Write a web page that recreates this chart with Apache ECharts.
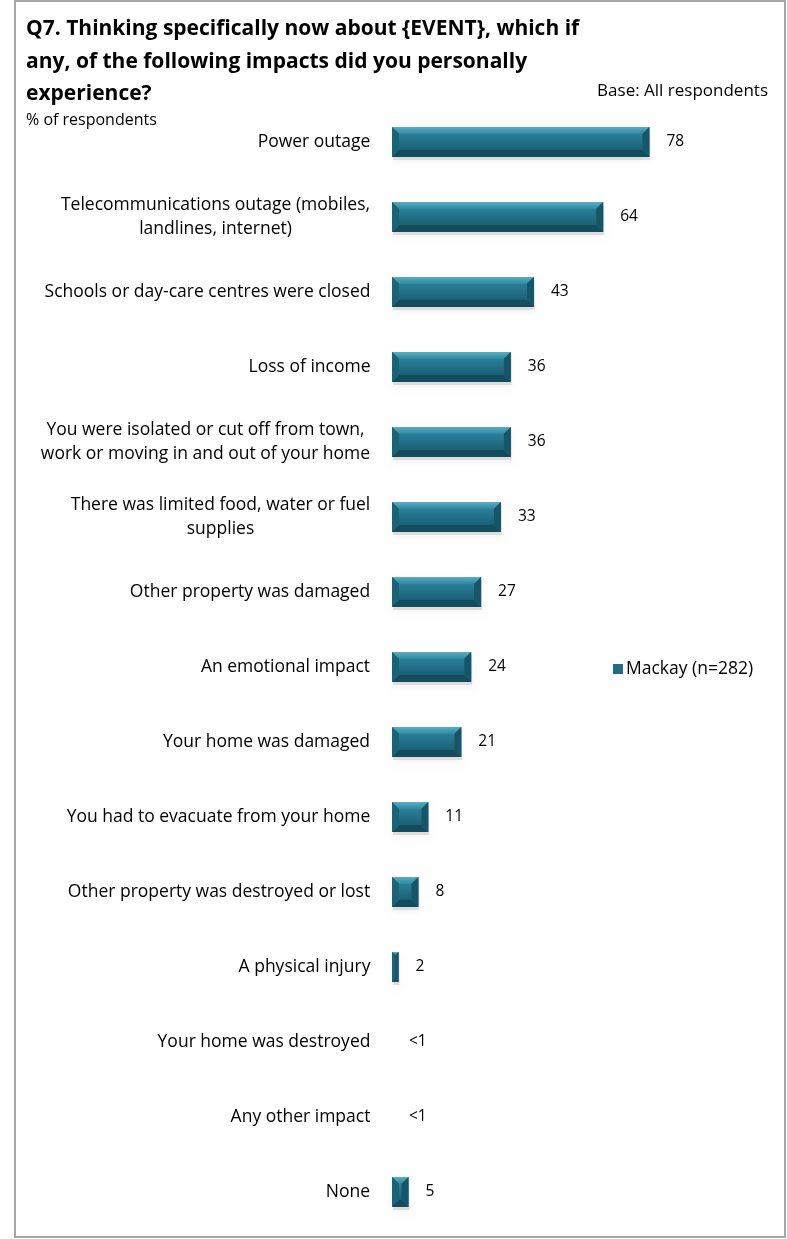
<!DOCTYPE html>
<html>
<head>
<meta charset="utf-8">
<script src="https://cdn.jsdelivr.net/npm/echarts@6/dist/echarts.min.js"></script>
<style>
  html, body { margin: 0; padding: 0; background: #fff; }
  #chart { width: 787px; height: 1239px; }
</style>
</head>
<body>
<div id="chart"></div>
<script>
// Impact categories (line breaks mark the wrapped labels)
const categories = [
  'Power outage',
  'Telecommunications outage (mobiles,\nlandlines, internet)',
  'Schools or day-care centres were closed',
  'Loss of income',
  'You were isolated or cut off from town,\nwork or moving in and out of your home',
  'There was limited food, water or fuel\nsupplies',
  'Other property was damaged',
  'An emotional impact',
  'Your home was damaged',
  'You had to evacuate from your home',
  'Other property was destroyed or lost',
  'A physical injury',
  'Your home was destroyed',
  'Any other impact',
  'None'
];
// % of respondents, Mackay (n=282)
const values = [78, 64, 43, 36, 36, 33, 27, 24, 21, 11, 8, 2, 0, 0, 5];
const valueLabels = ['78', '64', '43', '36', '36', '33', '27', '24', '21', '11', '8', '2', '<1', '<1', '5'];
const seriesName = 'Mackay (n=282)';

const FONT = '"Open Sans", Lato, sans-serif';
const LABEL_SIZE = 17.5;

// Measure each label's widest line so wrapped lines can be centred within their block
const measureCtx = document.createElement('canvas').getContext('2d');
measureCtx.font = LABEL_SIZE + 'px ' + FONT;
const rich = {};
categories.forEach((c, i) => {
  const w = Math.max(...c.split('\n').map(l => measureCtx.measureText(l).width));
  rich['c' + i] = { width: Math.ceil(w) + 1, align: 'center', fontSize: LABEL_SIZE, fontFamily: FONT, color: '#000', lineHeight: 24 };
});

const chart = echarts.init(document.getElementById('chart'), null, { renderer: 'canvas' });

function renderBevelBar(params, api) {
  const v = api.value(0);
  const idx = api.value(1);
  const start = api.coord([0, idx]);
  const end = api.coord([v, idx]);
  const h = api.size([0, 1])[1] * 0.4;
  const x0 = start[0], x1 = end[0], yc = start[1];
  const y0 = yc - h / 2, y1 = yc + h / 2;
  const w = x1 - x0;
  const children = [];
  if (w > 0) {
    const b = Math.min(7, w / 2, h / 4);
    children.push({
      type: 'rect',
      shape: { x: x0 + 1, y: y0 + 3, width: w, height: h },
      style: { fill: 'rgba(0,0,0,0.10)', shadowBlur: 6, shadowColor: 'rgba(0,0,0,0.35)', shadowOffsetY: 3 }
    });
    children.push({
      type: 'rect',
      shape: { x: x0, y: y0, width: w, height: h },
      style: { fill: '#1b6579' }
    });
    // top facet
    children.push({
      type: 'polygon',
      shape: { points: [[x0, y0], [x1, y0], [x1 - b, y0 + b], [x0 + b, y0 + b]] },
      style: { fill: new echarts.graphic.LinearGradient(0, 0, 0, 1, [
        { offset: 0, color: '#5aaec4' }, { offset: 1, color: '#2f87a0' }]) }
    });
    // bottom facet
    children.push({
      type: 'polygon',
      shape: { points: [[x0, y1], [x1, y1], [x1 - b, y1 - b], [x0 + b, y1 - b]] },
      style: { fill: '#124c5d' }
    });
    // left facet
    children.push({
      type: 'polygon',
      shape: { points: [[x0, y0], [x0 + b, y0 + b], [x0 + b, y1 - b], [x0, y1]] },
      style: { fill: '#1a6376' }
    });
    // right facet
    children.push({
      type: 'polygon',
      shape: { points: [[x1, y0], [x1 - b, y0 + b], [x1 - b, y1 - b], [x1, y1]] },
      style: { fill: '#165668' }
    });
    // front face
    children.push({
      type: 'rect',
      shape: { x: x0 + b, y: y0 + b, width: Math.max(0, w - 2 * b), height: h - 2 * b },
      style: { fill: new echarts.graphic.LinearGradient(0, 0, 0, 1, [
        { offset: 0, color: '#2a7f98' }, { offset: 1, color: '#1a6075' }]) }
    });
  }
  children.push({
    type: 'text',
    x: Math.max(x1, x0) + 17,
    y: yc,
    style: {
      text: valueLabels[params.dataIndex],
      fill: '#000',
      fontSize: 15.5,
      fontFamily: FONT,
      verticalAlign: 'middle',
      align: 'left'
    }
  });
  return { type: 'group', children: children };
}

const option = {
  animation: false,
  backgroundColor: '#fff',
  title: {
    text: 'Q7. Thinking specifically now about {EVENT}, which if\nany, of the following impacts did you personally\nexperience?',
    left: 21,
    top: 8,
    textStyle: { fontFamily: FONT, fontWeight: 'bold', fontSize: 21, color: '#000', lineHeight: 32.5 }
  },
  legend: {
    data: [seriesName],
    left: 608,
    top: 655,
    icon: 'rect',
    itemWidth: 10,
    itemHeight: 10,
    itemGap: 4,
    textStyle: { fontFamily: FONT, fontSize: 17.5, color: '#000', padding: [0, 0, 0, -2] }
  },
  grid: { left: 392, right: 65, top: 104.5, bottom: 9.5, containLabel: false },
  xAxis: { type: 'value', min: 0, max: 100, show: false },
  yAxis: {
    type: 'category',
    data: categories,
    inverse: true,
    axisLine: { show: false },
    axisTick: { show: false },
    splitLine: { show: false },
    axisLabel: {
      margin: 21,
      formatter: (value, index) => value.split('\n').map(l => '{c' + index + '|' + l + '}').join('\n'),
      rich: rich
    }
  },
  series: [{
    name: seriesName,
    type: 'custom',
    renderItem: renderBevelBar,
    itemStyle: { color: '#1f6e85' },
    encode: { x: 0, y: 1 },
    data: values.map((v, i) => [v, i])
  }],
  graphic: [
    {
      type: 'rect',
      shape: { x: 15, y: 1, width: 770, height: 1236 },
      style: { fill: 'none', stroke: '#a6a6a6', lineWidth: 2 },
      silent: true
    },
    {
      type: 'text',
      x: 768, y: 91,
      style: { text: 'Base: All respondents', fontFamily: FONT, fontSize: 17, fill: '#000', align: 'right', verticalAlign: 'middle' }
    },
    {
      type: 'text',
      x: 26, y: 120,
      style: { text: '% of respondents', fontFamily: FONT, fontSize: 16, fill: '#000', align: 'left', verticalAlign: 'middle' }
    }
  ]
};

chart.setOption(option);
</script>
</body>
</html>
